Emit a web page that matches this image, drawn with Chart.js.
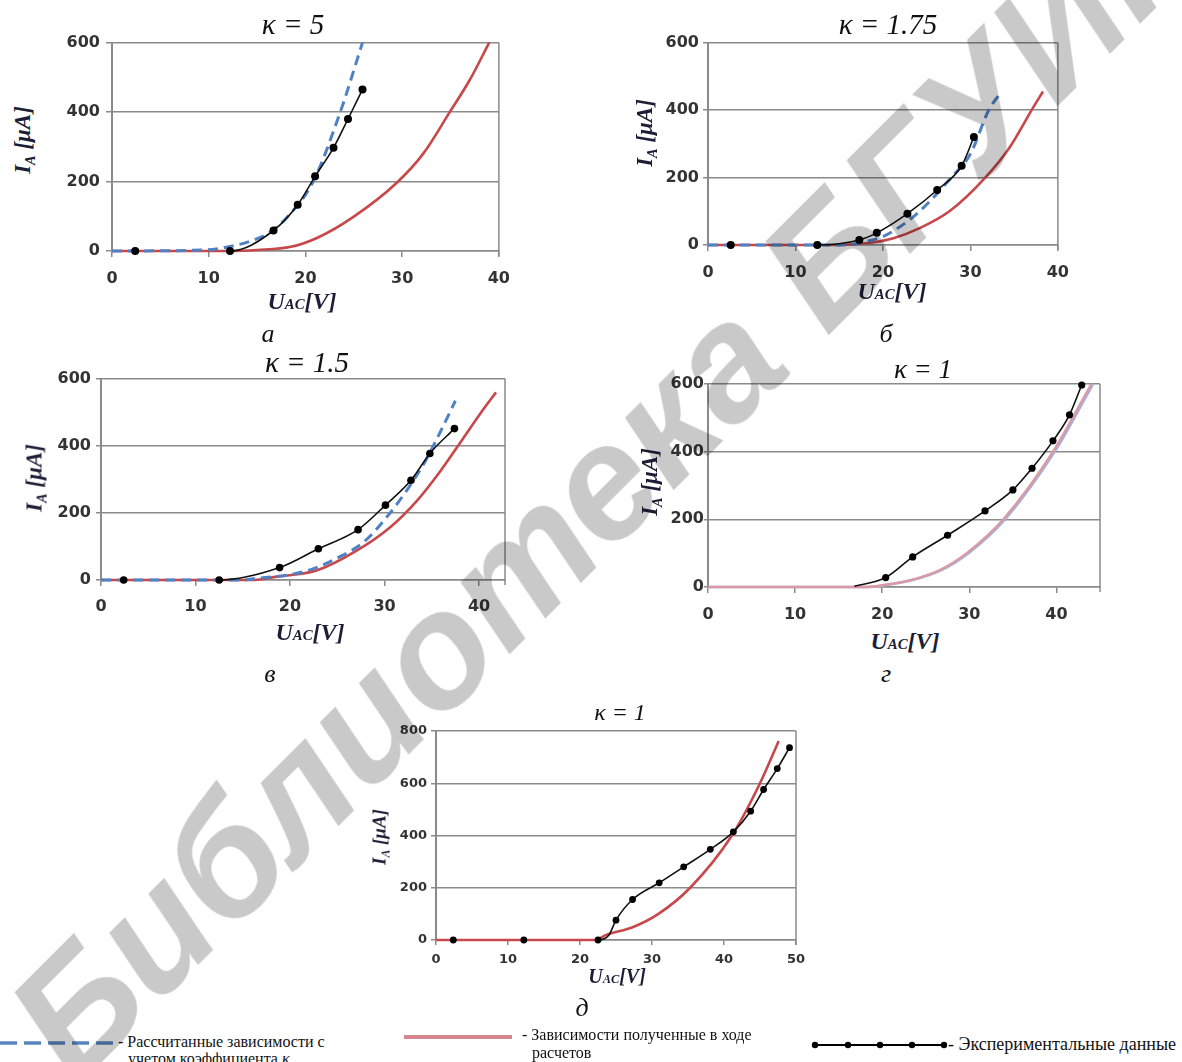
<!DOCTYPE html>
<html>
<head>
<meta charset="utf-8">
<script src="https://cdn.jsdelivr.net/npm/chart.js@4.4.1/dist/chart.umd.min.js"></script>
<style>
  body { margin: 0; background: #fff; }
  #page { position: relative; width: 1182px; height: 1062px; overflow: hidden; background: #fff; isolation: isolate; }
  .box { position: absolute; }
  .t { position: absolute; font-family: 'Liberation Serif', 'Times New Roman', serif; font-style: italic; color: #111; white-space: nowrap; transform: translate(-50%, -50%); line-height: 1; }
  .ax { font-weight: bold; color: #1c1e36; }
  .ax .s { font-size: 62%; }
  .ax .sub { font-size: 62%; position: relative; top: 0.35em; }
  .yl { transform: translate(-50%, -50%) rotate(-90deg); }
  .lg { position: absolute; font-family: 'Liberation Serif', 'Times New Roman', serif; font-size: 16px; color: #111; white-space: nowrap; line-height: 18px; }
  .wm { position: absolute; left: -21px; top: 991px; transform-origin: 0 0; transform: rotate(-45deg);
        font: italic bold 162px 'Liberation Sans', Arial, sans-serif; line-height: 1; white-space: nowrap;
        color: #c9c9c9; mix-blend-mode: multiply; pointer-events: none; }
</style>
</head>
<body>
<div id="page"></div>
<script>
// tick labels
const xTicks40 = [0, 10, 20, 30, 40];
const xTicks50 = [0, 10, 20, 30, 40, 50];
const yTicks600 = [0, 200, 400, 600];
const yTicks800 = [0, 200, 400, 600, 800];

// а) κ = 5
const expU_a = [2.4, 12.2, 16.7, 19.2, 21.0, 22.9, 24.4, 25.9];
const expI_a = [0, 0, 59, 133, 215, 297, 380, 465];
const calcU_a = [0, 12, 15, 18.5, 21.3, 25.0, 29.5, 32.2, 34.9, 37.0, 39.0];
const calcI_a = [0, 0, 3, 12, 39, 99, 198, 281, 399, 493, 600];
const kU_a = [0, 9.7, 12.2, 14.5, 16.2, 18.2, 20.8, 23.6, 25.9];
const kI_a = [0, 3, 13, 30, 52, 100, 200, 400, 600];

// б) κ = 1.75
const expU_b = [2.6, 12.5, 17.3, 19.3, 22.8, 26.2, 29.0, 30.4];
const expI_b = [0, 0, 15, 36, 93, 163, 235, 320];
const calcU_b = [0, 15, 17, 19, 21.2, 24.2, 27.6, 31.7, 34.5, 37.0, 38.3];
const calcI_b = [0, 0, 3, 8, 20, 50, 100, 200, 290, 400, 455];
const kU_b = [0, 15, 16.5, 18, 20, 22.7, 25, 27.8, 30, 32.1, 33.5];
const kI_b = [0, 0, 2, 10, 25, 68, 120, 200, 270, 400, 453];

// в) κ = 1.5
const expU_v = [2.4, 12.5, 18.9, 23.0, 27.2, 30.1, 32.8, 34.8, 37.4];
const expI_v = [0, 0, 37, 93, 150, 223, 297, 377, 451];
const calcU_v = [0, 16, 18.6, 22.8, 27.1, 30.6, 33.4, 35.9, 38.3, 40.5, 41.8];
const calcI_v = [0, 0, 10, 28, 88, 157, 235, 324, 421, 510, 559];
const kU_v = [0, 15, 16.5, 19.8, 22.5, 24.9, 27.8, 30.2, 32.3, 34.3, 35.9, 37.5];
const kI_v = [0, 0, 5, 15, 34, 64, 113, 186, 265, 353, 441, 534];

// г) κ = 1
const expU_g = [16.8, 20.4, 23.5, 27.5, 31.8, 35.0, 37.2, 39.6, 41.5, 42.9];
const expI_g = [2, 28, 89, 153, 225, 287, 351, 432, 509, 597];
const calcU_g = [0, 18, 20, 23.2, 26.6, 29.7, 33.9, 39.6, 44.0];
const calcI_g = [0, 0, 5, 20, 50, 100, 200, 400, 600];
const kU_g = [0, 18.2, 20.2, 23.4, 26.8, 29.9, 34.1, 39.8, 44.2];
const kI_g = [0, 0, 5, 20, 50, 100, 200, 400, 600];

// д) κ = 1
const expU_d = [2.4, 12.2, 22.5, 24.0, 25.0, 27.3, 31.0, 34.4, 38.1, 41.3, 43.7, 45.5, 47.4, 49.1];
const expI_d = [0, 0, 0, 18, 76, 155, 219, 280, 347, 414, 493, 576, 656, 736];
const calcU_d = [0, 22, 23.7, 27.4, 30.9, 35.3, 41.1, 45.0, 47.6];
const calcI_d = [0, 0, 20, 50, 100, 200, 400, 600, 762];

const RED = '#c8474a';
const BLUE = '#4f81c4';
const GRID = '#8a8a8a';

const page = document.getElementById('page');
const pts = (u, i) => u.map((x, n) => ({ x: x, y: i[n] }));

const frame = {
  id: 'frame',
  beforeDatasetsDraw(chart) {
    const a = chart.chartArea, c = chart.ctx;
    c.save();
    c.strokeStyle = GRID;
    c.lineWidth = 1.5;
    c.beginPath();
    c.moveTo(a.right, a.top);
    c.lineTo(a.right, a.bottom + 5);
    c.stroke();
    c.restore();
  }
};

const panels = [
  { L: 112, T: 39, R: 504, B: 251, xMax: 40, yMax: 600, xt: xTicks40, yt: yTicks600,
    exp: [expU_a, expI_a], calc: [calcU_a, calcI_a], k: [kU_a, kI_a],
    font: 16, yTick: 6, yPad: 6, xTick: 6, xPad: 12, dot: 4, bare: -1 },
  { L: 708, T: 41, R: 1063, B: 245, xMax: 40, yMax: 600, xt: xTicks40, yt: yTicks600,
    exp: [expU_b, expI_b], calc: [calcU_b, calcI_b], k: [kU_b, kI_b],
    font: 16, yTick: 5, yPad: 4, xTick: 6, xPad: 12, dot: 4, bare: -1 },
  { L: 101, T: 376, R: 505, B: 580, xMax: 42.75, yMax: 600, xt: xTicks40, yt: yTicks600,
    exp: [expU_v, expI_v], calc: [calcU_v, calcI_v], k: [kU_v, kI_v],
    font: 16, yTick: 5, yPad: 5, xTick: 6, xPad: 11, dot: 3.8, bare: -1 },
  { L: 708, T: 384, R: 1100, B: 587, xMax: 45, yMax: 600, xt: xTicks40, yt: yTicks600,
    exp: [expU_g, expI_g], calc: [calcU_g, calcI_g], k: [kU_g, kI_g], solidK: true,
    font: 16, yTick: 4, yPad: 0, xTick: 6, xPad: 12, dot: 3.6, bare: 0 },
  { L: 436, T: 731, R: 796, B: 940, xMax: 50, yMax: 800, xt: xTicks50, yt: yTicks800,
    exp: [expU_d, expI_d], calc: [calcU_d, calcI_d], k: null,
    font: 13, yTick: 5, yPad: 4, xTick: 5, xPad: 7, dot: 3.4, bare: 3 }
];

function build(p) {
  const yW = 62, pt = 12, pr = 18, xH = 40;
  const w = p.R - p.L + yW + pr, h = p.B - p.T + pt + xH;
  const box = document.createElement('div');
  box.className = 'box';
  box.style.left = (p.L - yW) + 'px';
  box.style.top = (p.T - pt) + 'px';
  const cv = document.createElement('canvas');
  cv.width = w; cv.height = h;
  box.appendChild(cv);
  page.appendChild(box);

  const datasets = [{
    data: pts(p.exp[0], p.exp[1]),
    borderColor: '#111',
    borderWidth: 1.6,
    pointRadius: ctx => ctx.dataIndex === p.bare ? 0 : p.dot,
    pointBackgroundColor: '#000',
    pointBorderWidth: 0,
    cubicInterpolationMode: 'monotone',
    segment: {
      borderColor: ctx => (ctx.p0.parsed.y === 0 && ctx.p1.parsed.y === 0) ? 'rgba(0,0,0,0)' : undefined
    }
  }];
  if (p.k) {
    datasets.push({
      data: pts(p.k[0], p.k[1]),
      borderColor: p.solidK ? '#a3b2dc' : BLUE,
      borderWidth: p.solidK ? 2.6 : 3,
      borderDash: p.solidK ? [] : [10, 6],
      pointRadius: 0,
      cubicInterpolationMode: 'monotone'
    });
  }
  datasets.push({
    data: pts(p.calc[0], p.calc[1]),
    borderColor: p.solidK ? '#db9aa3' : RED,
    borderWidth: p.solidK ? 2.4 : 2.6,
    pointRadius: 0,
    cubicInterpolationMode: 'monotone'
  });
  if (p.solidK) {
    // pink line lies over the blue one in panel г
    const tmp = datasets[1]; datasets[1] = datasets[2]; datasets[2] = tmp;
  }

  const tickFont = { family: 'DejaVu Sans', weight: 'bold', size: p.font };
  new Chart(cv.getContext('2d'), {
    type: 'line',
    data: { datasets: datasets },
    options: {
      responsive: false,
      animation: false,
      layout: { padding: { top: pt, right: pr, left: 0, bottom: 0 } },
      plugins: { legend: { display: false }, tooltip: { enabled: false } },
      elements: { line: { tension: 0.4 } },
      datasets: { line: { clip: 5 } },
      scales: {
        x: {
          type: 'linear', min: 0, max: p.xMax,
          afterBuildTicks: s => { s.ticks = p.xt.map(v => ({ value: v })); },
          afterFit: s => { s.height = xH; },
          ticks: { color: '#333', font: tickFont, padding: p.xPad, maxRotation: 0 },
          grid: { drawOnChartArea: false, tickLength: p.xTick, color: GRID, lineWidth: 1.5 },
          border: { color: GRID, width: 1.5 }
        },
        y: {
          type: 'linear', min: 0, max: p.yMax,
          afterBuildTicks: s => { s.ticks = p.yt.map(v => ({ value: v })); },
          afterFit: s => { s.width = yW; },
          ticks: { color: '#333', font: tickFont, padding: p.yPad },
          grid: { color: GRID, lineWidth: 1.5, tickLength: p.yTick },
          border: { color: GRID, width: 2 }
        }
      }
    },
    plugins: [frame]
  });
}
panels.forEach(build);

// text: titles, axis titles, panel letters
function txt(html, x, y, size, cls) {
  const d = document.createElement('div');
  d.className = 't' + (cls ? ' ' + cls : '');
  d.style.left = x + 'px';
  d.style.top = y + 'px';
  d.style.fontSize = size + 'px';
  d.innerHTML = html;
  page.appendChild(d);
}
const yTitle = 'I<span class="sub">A</span> [μA]';
const xTitle = 'U<span class="s">AC</span>[V]';

txt('κ = 5', 293, 24, 29);
txt('κ = 1.75', 888, 24, 29);
txt('κ = 1.5', 307, 362, 29);
txt('κ = 1', 923, 369, 27);
txt('κ = 1', 620, 712, 24);

txt(yTitle, 22, 140, 23, 'ax yl');
txt(yTitle, 644, 133, 23, 'ax yl');
txt(yTitle, 34, 478, 23, 'ax yl');
txt(yTitle, 649, 482, 23, 'ax yl');
txt(yTitle, 379, 837, 19, 'ax yl');

txt(xTitle, 302, 301, 24, 'ax');
txt(xTitle, 892, 291, 24, 'ax');
txt(xTitle, 310, 632, 24, 'ax');
txt(xTitle, 905, 641, 24, 'ax');
txt(xTitle, 617, 976, 20, 'ax');

txt('а', 268, 334, 26);
txt('б', 886, 334, 26);
txt('в', 270, 674, 26);
txt('г', 886, 674, 26);
txt('д', 582, 1008, 26);

// legend
const lg = document.createElement('div');
lg.innerHTML =
  '<svg style="position:absolute;left:0;top:1036px" width="116" height="14">' +
  '<line x1="0" y1="7" x2="114" y2="7" stroke="#5a84c0" stroke-width="3.5" stroke-dasharray="17 7"/></svg>' +
  '<div class="lg" style="left:118px;top:1033px">- Рассчитанные зависимости с</div>' +
  '<div class="lg" style="left:128px;top:1050px">учетом коэффициента <i>κ</i></div>' +
  '<svg style="position:absolute;left:404px;top:1031px" width="110" height="12">' +
  '<line x1="0" y1="6" x2="108" y2="6" stroke="#d6868c" stroke-width="4"/></svg>' +
  '<div class="lg" style="left:522px;top:1026px">- Зависимости полученные в ходе</div>' +
  '<div class="lg" style="left:532px;top:1044px">расчетов</div>' +
  '<svg style="position:absolute;left:810px;top:1038px" width="138" height="14">' +
  '<line x1="3" y1="7" x2="135" y2="7" stroke="#000" stroke-width="2"/>' +
  '<circle cx="5" cy="7" r="3.2"/><circle cx="38" cy="7" r="3.2"/><circle cx="70" cy="7" r="3.2"/>' +
  '<circle cx="102" cy="7" r="3.2"/><circle cx="134" cy="7" r="3.2"/></svg>' +
  '<div class="lg" style="left:948px;top:1035px;font-size:18px">- Экспериментальные данные</div>';
page.appendChild(lg);

// watermark
const wm = document.createElement('div');
wm.className = 'wm';
wm.textContent = 'Библиотека БГУИР';
page.appendChild(wm);
</script>
</body>
</html>
